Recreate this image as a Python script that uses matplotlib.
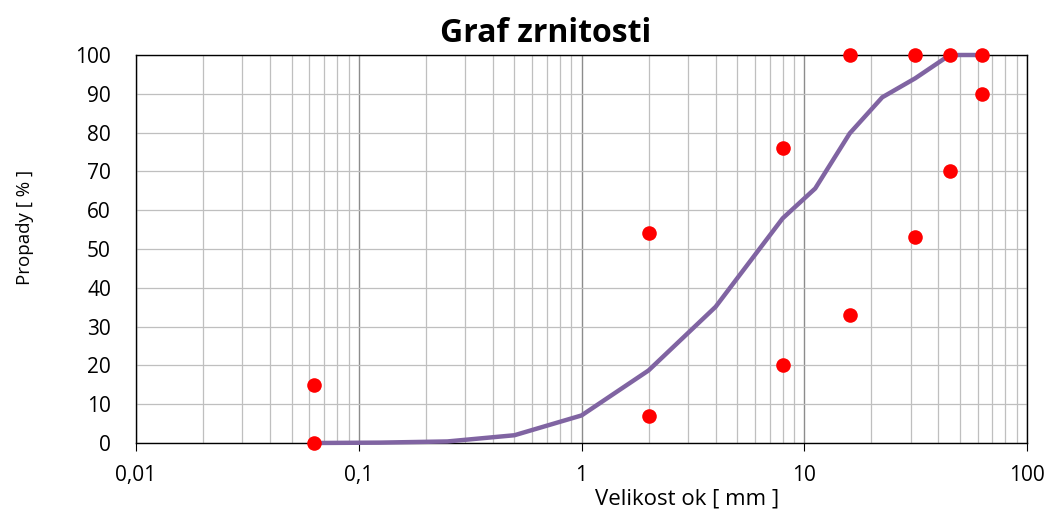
import matplotlib
matplotlib.use("Agg")
import matplotlib.pyplot as plt
from matplotlib.ticker import LogLocator, FixedLocator, FuncFormatter, NullFormatter

# Data
sieve_sizes = [0.063, 0.125, 0.25, 0.5, 1, 2, 4, 8, 11.2, 16, 22.4, 31.5, 45, 63]
passing = [0, 0.1, 0.4, 2.0, 7.1, 18.7, 35.1, 57.9, 65.6, 79.8, 89.1, 94.0, 100, 100]

limit_x = [0.063, 0.063, 2, 2, 8, 8, 16, 16, 31.5, 31.5, 45, 45, 63, 63]
limit_y = [15, 0, 54, 7, 76, 20, 100, 33, 100, 53, 100, 70, 100, 90]

x_ticks = [0.01, 0.1, 1, 10, 100]
x_tick_labels = ["0,01", "0,1", "1", "10", "100"]
y_ticks = list(range(0, 101, 10))

plt.rcParams['font.family'] = ['Open Sans', 'DejaVu Sans']

W, H = 1051, 515
fig = plt.figure(figsize=(W / 100, H / 100), dpi=100)
ax = fig.add_axes([136 / W, 1 - 443 / H, (1027 - 136) / W, (443 - 55) / H])

ax.set_xscale('log')
ax.set_xlim(0.01, 100)
ax.set_ylim(0, 100)

ax.xaxis.set_major_locator(FixedLocator(x_ticks))
ax.xaxis.set_major_formatter(FuncFormatter(lambda v, p: x_tick_labels[x_ticks.index(v)] if v in x_ticks else ""))
ax.xaxis.set_minor_locator(LogLocator(base=10, subs=range(2, 10), numticks=20))
ax.xaxis.set_minor_formatter(NullFormatter())
ax.set_yticks(y_ticks)

ax.grid(True, which='major', axis='x', color='#8c8c8c', linewidth=1.0)
ax.grid(True, which='minor', axis='x', color='#bfbfbf', linewidth=0.9)
ax.grid(True, which='major', axis='y', color='#bfbfbf', linewidth=0.9)
ax.set_axisbelow(True)

for s in ax.spines.values():
    s.set_color('black')
    s.set_linewidth(1.0)

ax.tick_params(axis='x', which='major', length=6, direction='out', labelsize=15, pad=10)
ax.tick_params(axis='x', which='minor', length=0)
ax.tick_params(axis='y', which='major', length=0, labelsize=15, pad=18)

ax.plot(sieve_sizes, passing, color='#8064A2', linewidth=3.2, zorder=3, clip_on=False)
ax.plot(limit_x, limit_y, linestyle='none', marker='o', markersize=10.5,
        color='#FF0000', markeredgewidth=0, zorder=4, clip_on=False)

fig.text(546 / W, 1 - 33 / H, "Graf zrnitosti", fontsize=23, fontweight='bold',
         ha='center', va='center')
fig.text(687 / W, 1 - 499 / H, "Velikost ok [ mm ]", fontsize=16,
         ha='center', va='center')
fig.text(25 / W, 1 - 227 / H, "Propady [ % ]", fontsize=13.5, rotation=90,
         ha='center', va='center')

fig.savefig("out.png", dpi=100)
